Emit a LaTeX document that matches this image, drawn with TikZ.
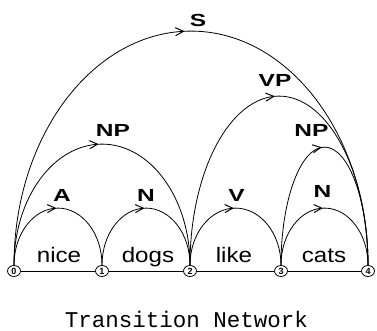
\documentclass[tikz,border=0pt]{standalone}
\usepackage{fontspec}
\usepackage{graphicx}
\setmainfont{Liberation Sans}
\newfontfamily\monof{Liberation Mono}
\usetikzlibrary{arrows.meta,decorations.markings,calc,shapes.geometric}
\newcommand\wideL[1]{\scalebox{1.4}[1]{#1}}
\newcommand\wideW[1]{\scalebox{1.15}[1]{#1}}
\newcommand\arcpath[5]{%
  \draw[arcline] (#1.north) .. controls +(0,0.5523*#5) and +(-0.5523*#4,0) .. (#3)
    .. controls +(0.5523*#4,0) and +(0,0.5523*#5) .. (#2.north);}
\tikzset{
  st/.style={ellipse, draw, line width=0.8pt, minimum width=13pt, minimum height=11pt,
    inner sep=0pt, font=\fontsize{9}{9}\selectfont\bfseries},
  arcline/.style={line width=0.8pt,
    decoration={markings, mark=at position 0.49 with {\arrow{Straight Barb[length=8pt,width=8pt,line width=1pt]}}},
    postaction={decorate}},
  lab/.style={font=\fontsize{17.5}{17.5}\selectfont\bfseries, inner sep=0pt, anchor=south},
  word/.style={font=\fontsize{21}{21}\selectfont, inner sep=0pt, anchor=base},
  ttl/.style={font=\monof\fontsize{22.5}{22.5}\selectfont, inner sep=0pt, anchor=base},
  base/.style={line width=0.8pt}
}
\begin{document}
\begin{tikzpicture}[x=1pt,y=1pt]
\useasboundingbox (0,0) rectangle (377,331);
\node[st] (n0) at (14,60) {0};
\node[st] (n1) at (102,60) {1};
\node[st] (n2) at (190,60) {2};
\node[st] (n3) at (281,60) {3};
\node[st] (n4) at (368,60) {4};
\draw[base] (n0) -- (n1);
\draw[base] (n1) -- (n2);
\draw[base] (n2) -- (n3);
\draw[base] (n3) -- (n4);
% peaks
\coordinate (pA)  at ($(n0.north)!0.5!(n1.north)+(0,57)$);
\coordinate (pN1) at ($(n1.north)!0.5!(n2.north)+(0,57)$);
\coordinate (pV)  at ($(n2.north)!0.5!(n3.north)+(0,57)$);
\coordinate (pN2) at ($(n3.north)!0.5!(n4.north)+(0,57)$);
\coordinate (pNP1) at ($(n0.north)!0.5!(n2.north)+(0,121)$);
\coordinate (pNP2) at ($(n3.north)!0.5!(n4.north)+(0,118)$);
\coordinate (pVP) at ($(n2.north)!0.5!(n4.north)+(0,169)$);
\coordinate (pS)  at ($(n0.north)!0.5!(n4.north)+(0,234)$);
\arcpath{n0}{n1}{pA}{44}{57}
\arcpath{n1}{n2}{pN1}{44}{57}
\arcpath{n2}{n3}{pV}{45.5}{57}
\arcpath{n3}{n4}{pN2}{43.5}{57}
\arcpath{n0}{n2}{pNP1}{88}{121}
\arcpath{n3}{n4}{pNP2}{43.5}{118}
\arcpath{n2}{n4}{pVP}{89}{169}
\arcpath{n0}{n4}{pS}{177}{234}
% labels
\node[lab] (lA)  at ($(pA)+(4,6)$) {\wideL{A}};
\node[lab] (lN1) at ($(pN1)+(0,6)$) {\wideL{N}};
\node[lab] (lV)  at ($(pV)+(1,6)$) {\wideL{V}};
\node[lab] (lN2) at ($(pN2)+(-2,10)$) {\wideL{N}};
\node[lab] (lNP1) at ($(pNP1)+(11,7)$) {\wideL{NP}};
\node[lab] (lNP2) at ($(pNP2)+(-13,10)$) {\wideL{NP}};
\node[lab] (lVP) at ($(pVP)+(-4,9)$) {\wideL{VP}};
\node[lab] (lS)  at ($(pS)+(7,4)$) {\wideL{S}};
% words
\node[word] (w1) at (59,68) {\wideW{nice}};
\node[word] (w2) at (148,68) {\wideW{dogs}};
\node[word] (w3) at (234,68) {\wideW{like}};
\node[word] (w4) at (324,68) {\wideW{cats}};
\node[ttl] (title) at (186.5,3) {Transition Network};
\end{tikzpicture}
\end{document}
